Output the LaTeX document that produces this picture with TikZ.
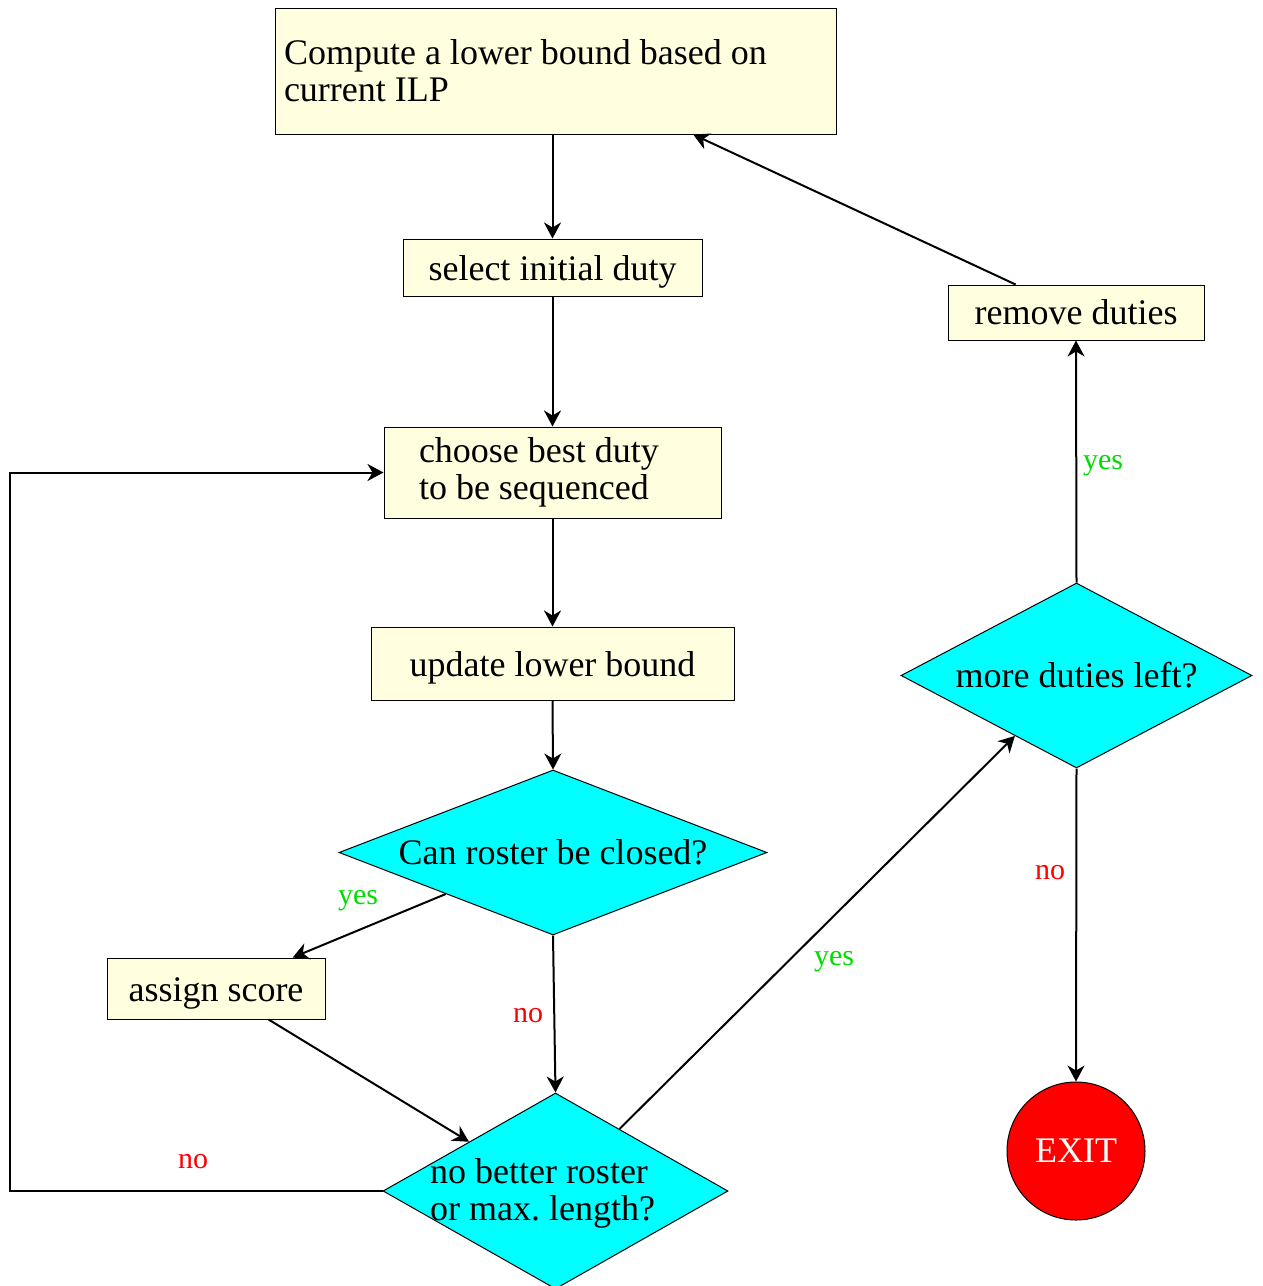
\documentclass[tikz,border=0pt]{standalone}
\usepackage{fontspec}
\setmainfont{Liberation Serif}
\usetikzlibrary{arrows.meta,shapes.geometric,calc}
\definecolor{boxfill}{RGB}{255,255,224}
\definecolor{yesgreen}{RGB}{0,220,0}
\definecolor{decfill}{RGB}{0,255,255}
\definecolor{exitfill}{RGB}{255,0,0}
% keep the font's own word spacing inside aligned multi-line nodes
\newcommand\plainspaces{\spaceskip=.25em\xspaceskip=.25em\relax}
\begin{document}
\begin{tikzpicture}[x=1pt,y=-1pt,
  every node/.style={font=\fontsize{36}{37}\selectfont},
  stepbox/.style={draw, line width=1pt, fill=boxfill, inner sep=0pt},
  lowtext/.style={text height=32pt, text depth=7pt},
  decision/.style={diamond, draw, line width=1pt, fill=decfill, inner sep=0pt, aspect=2.5},
  flow/.style={line width=2pt, -{Stealth[length=16pt,width=17pt,inset=5pt]}},
  yeslab/.style={text=yesgreen, anchor=base, font=\fontsize{30}{32}\selectfont},
  nolab/.style={text=exitfill, anchor=base, font=\fontsize{30}{32}\selectfont}
]
\useasboundingbox (0,0) rectangle (1262,1286);

% process steps
\node[stepbox, text width=543pt, inner xsep=9pt, minimum height=126pt, align=left]
  (lb) at (555.5,71) {\plainspaces Compute a lower bound based on\\current ILP};
\node[stepbox, lowtext, minimum width=299pt, minimum height=57pt] (sel) at (552.5,267.5) {select initial duty};
\node[stepbox, minimum width=256pt, minimum height=55pt] (rd) at (1076,312.5) {remove duties};
\node[stepbox, text width=267pt, inner xsep=35pt, minimum height=91pt, align=left]
  (ch) at (552.5,472.5) {\plainspaces choose best duty\\to be sequenced};
\node[stepbox, lowtext, minimum width=363pt, minimum height=73pt] (up) at (552.5,663.5) {update lower bound};
\node[stepbox, lowtext, minimum width=218pt, minimum height=61pt] (as) at (216,988.5) {assign score};

% decisions
\node[decision, minimum width=428pt, minimum height=165pt] (cr) at (553,852.5) {Can roster be closed?};
\node[decision, minimum width=345pt, minimum height=196pt,
  label={[align=left, xshift=-13pt, yshift=-2pt]center:\plainspaces no better roster\\or max.\ length?}] (nb) at (555.5,1191) {};
\node[decision, minimum width=351pt, minimum height=185pt] (md) at (1076.5,675.5) {more duties left?};

% terminal
\node[circle, draw, line width=1pt, fill=exitfill, text=white, minimum size=138pt, inner sep=0pt]
  (ex) at (1076,1151) {EXIT};

% connectors
\draw[flow] (lb.south -| sel.north) -- (sel.north);
\draw[flow] (sel.south) -- (ch.north);
\draw[flow] (ch.south) -- (up.north);
\draw[flow] (up.south) -- (cr.north);
\draw[flow] ($(cr.west)!0.5!(cr.south)$) -- ($(as.north east)!0.15!(as.north west)$);
\draw[flow] (cr.south) -- (nb.north);
\draw[flow] ($(as.south)!0.48!(as.south east)$) -- ($(nb.west)!0.5!(nb.north)$);
\coordinate (back) at (10,1191);
\draw[flow] (nb.west) -- (back) |- (ch.west);
\draw[flow] ($(nb.north)!0.37!(nb.east)$) -- ($(md.west)!0.65!(md.south)$);
\draw[flow] (md.north) -- (rd.south);
\draw[flow] (md.south) -- (ex.north);
\draw[flow] ($(rd.north)!0.47!(rd.north west)$) -- ($(lb.south)!0.49!(lb.south east)$);

% branch labels
\node[yeslab] (y1) at (358,904) {yes};
\node[yeslab] (y2) at (834,965) {yes};
\node[yeslab] (y3) at (1103,469) {yes};
\node[nolab] (n1) at (528,1022) {no};
\node[nolab] (n2) at (193,1168) {no};
\node[nolab] (n3) at (1050,879) {no};
\end{tikzpicture}
\end{document}
